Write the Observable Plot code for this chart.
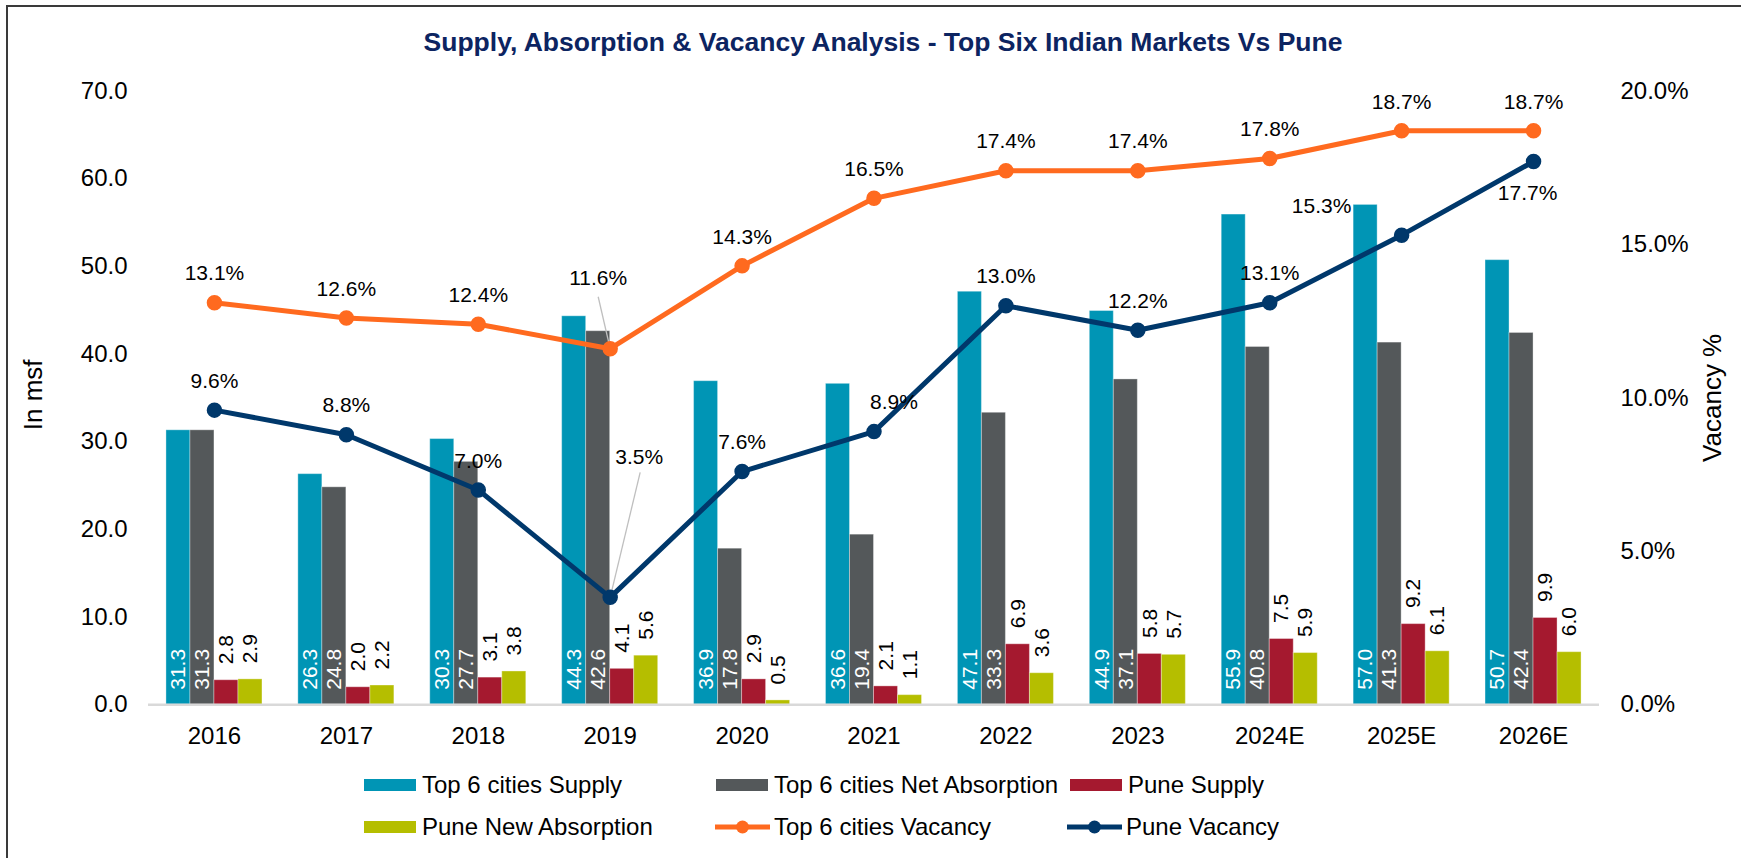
<!DOCTYPE html>
<html><head><meta charset="utf-8">
<script src="https://cdn.jsdelivr.net/npm/d3@7"></script>
<script src="https://cdn.jsdelivr.net/npm/@observablehq/plot@0.6"></script>
<style>
body{margin:0;background:#fff;font-family:"Liberation Sans",Arial,Helvetica,sans-serif;}
#wrap{position:relative;width:1741px;height:858px;overflow:hidden;background:#fff;}
#frame{position:absolute;left:6px;top:5px;width:2000px;height:2000px;border-left:2px solid #3a3a3a;border-top:2px solid #3a3a3a;}
#title{position:absolute;top:27px;left:883px;transform:translateX(-50%);white-space:nowrap;font-weight:bold;font-size:26.5px;line-height:30px;color:#0c2461;}
#chart{position:absolute;left:0;top:60px;}
.leg{position:absolute;height:30px;display:flex;align-items:center;font-size:24px;white-space:nowrap;color:#000;}
.sw{display:inline-block;width:52px;height:12px;margin-right:6px;}
.ln{display:inline-block;width:55px;height:16px;margin-right:4px;}
</style></head>
<body>
<div id="wrap">
  <div id="frame"></div>
  <div id="title">Supply, Absorption &amp; Vacancy Analysis - Top Six Indian Markets Vs Pune</div>
  <div id="chart"></div>
  <div id="legend"></div>
</div>
<script>
// ---- data ----
const years = ["2016","2017","2018","2019","2020","2021","2022","2023","2024E","2025E","2026E"];
const top6Supply = [31.3, 26.3, 30.3, 44.3, 36.9, 36.6, 47.1, 44.9, 55.9, 57.0, 50.7];
const top6NetAbsorption = [31.3, 24.8, 27.7, 42.6, 17.8, 19.4, 33.3, 37.1, 40.8, 41.3, 42.4];
const puneSupply = [2.8, 2.0, 3.1, 4.1, 2.9, 2.1, 6.9, 5.8, 7.5, 9.2, 9.9];
const puneNewAbsorption = [2.9, 2.2, 3.8, 5.6, 0.5, 1.1, 3.6, 5.7, 5.9, 6.1, 6.0];
const top6Vacancy = [13.1, 12.6, 12.4, 11.6, 14.3, 16.5, 17.4, 17.4, 17.8, 18.7, 18.7];
const puneVacancy = [9.6, 8.8, 7.0, 3.5, 7.6, 8.9, 13.0, 12.2, 13.1, 15.3, 17.7];
const leftTicks = [0, 10, 20, 30, 40, 50, 60, 70];
const rightTicks = [0, 5, 10, 15, 20];

const barSeries = [
  {name: "Top 6 cities Supply", values: top6Supply, color: "#0095b5", inside: true},
  {name: "Top 6 cities Net Absorption", values: top6NetAbsorption, color: "#54585a", inside: true},
  {name: "Pune Supply", values: puneSupply, color: "#a5192f", inside: false},
  {name: "Pune New Absorption", values: puneNewAbsorption, color: "#b5be00", inside: false}
];
const lineSeries = [
  {name: "Top 6 cities Vacancy", values: top6Vacancy, color: "#ff6a1f"},
  {name: "Pune Vacancy", values: puneVacancy, color: "#00386b"}
];

// ---- layout ----
const W = 1741, H = 710;
const mL = 148, mR = 142, mT = 30.4, mB = 65.7;
const plotW = W - mL - mR, plotH = H - mT - mB;
const yMax = 70, vMax = 20, vs = yMax / vMax;
const groupW = 0.728, barW = groupW / barSeries.length;
const pxX = plotW / years.length, pxV = plotH / vMax;

const barRows = barSeries.flatMap((s, k) => s.values.map((v, i) => ({
  i, k, v, name: s.name, inside: s.inside,
  x1: i - groupW / 2 + k * barW, x2: i - groupW / 2 + (k + 1) * barW,
  xc: i - groupW / 2 + (k + 0.5) * barW
})));

const lineRows = lineSeries.flatMap((s) => s.values.map((v, i) => ({i, v, y: v * vs, name: s.name, color: s.color})));

// label placements (pixel offsets from point)
const place = {
  "Top 6 cities Vacancy": {def: [0, -29], 3: [-12, -70]},
  "Pune Vacancy": {def: [0, -29], 3: [29, -140], 5: [20, -29], 9: [-80, -29], 10: [-6, 32]}
};
function off(d) { const p = place[d.name]; return p[d.i] || p.def; }
const groups = d3.groups(lineRows, d => off(d).join(","));
const labelMarks = groups.map(([key, rows]) => {
  const [dx, dy] = key.split(",").map(Number);
  return Plot.text(rows, {x: "i", y: "y", text: d => d.v.toFixed(1) + "%", dx, dy, fontSize: 21, fill: "#000"});
});
// leader lines for the displaced 2019 labels
const leaders = [
  {name: "Top 6 cities Vacancy", i: 3, sx: -12, sy: -52},
  {name: "Pune Vacancy", i: 3, sx: 30, sy: -125}
].map(l => {
  const r = lineRows.find(d => d.name === l.name && d.i === l.i);
  return {x1: r.i + l.sx / pxX, y1: r.y - l.sy / pxV * vs, x2: r.i, y2: r.y};
});

const chart = Plot.plot({
  width: W, height: H,
  marginLeft: mL, marginRight: mR, marginTop: mT, marginBottom: mB,
  x: {type: "linear", domain: [-0.5, years.length - 0.5], axis: null},
  y: {domain: [0, yMax], axis: null},
  color: {domain: barSeries.map(s => s.name), range: barSeries.map(s => s.color)},
  style: {fontFamily: '"Liberation Sans", Arial, sans-serif', fontSize: "24px", color: "#000", background: "transparent", overflow: "visible"},
  marks: [
    Plot.rectY(barRows, {x1: "x1", x2: "x2", y1: 0, y2: "v", fill: "name", stroke: "#ffffff", strokeOpacity: 0.35, strokeWidth: 1}),
    Plot.text(barRows.filter(d => d.inside), {x: "xc", y: 0, text: d => d.v.toFixed(1), rotate: -90, textAnchor: "start", dy: -15, fill: "#ffffff", fontSize: 21}),
    Plot.text(barRows.filter(d => !d.inside), {x: "xc", y: "v", text: d => d.v.toFixed(1), rotate: -90, textAnchor: "start", dy: -16, fill: "#000", fontSize: 21}),
    Plot.ruleY([0], {stroke: "#d9d9d9", strokeWidth: 2.5}),
    Plot.axisY({anchor: "left", ticks: leftTicks, tickFormat: d => d.toFixed(1), tickSize: 0, tickPadding: 21, fontSize: 24, label: null}),
    Plot.axisY({anchor: "right", ticks: rightTicks.map(t => t * vs), tickFormat: d => (d / vs).toFixed(1) + "%", tickSize: 0, tickPadding: 21, fontSize: 24, label: null}),
    Plot.axisX({ticks: years.map((_, i) => i), tickFormat: i => years[i], tickSize: 0, tickPadding: 22, fontSize: 24, label: null}),
    Plot.text(["In msf"], {frameAnchor: "left", textAnchor: "middle", dx: -115, dy: -3, rotate: -90, fontSize: 26, fill: "#000"}),
    Plot.text(["Vacancy %"], {frameAnchor: "right", textAnchor: "middle", dx: 113, rotate: -90, fontSize: 26, fill: "#000"}),
    ...lineSeries.map(s => Plot.line(lineRows.filter(d => d.name === s.name), {x: "i", y: "y", stroke: s.color, strokeWidth: 5})),
    Plot.link(leaders, {x1: "x1", y1: "y1", x2: "x2", y2: "y2", stroke: "#bfbfbf", strokeWidth: 1.3}),
    ...lineSeries.map(s => Plot.dot(lineRows.filter(d => d.name === s.name), {x: "i", y: "y", r: 7, fill: s.color, stroke: s.color})),
    ...labelMarks
  ]
});
document.getElementById("chart").appendChild(chart);

// ---- legend ----
const legItems = [
  {s: barSeries[0], left: 364, cy: 785, type: "bar"},
  {s: barSeries[1], left: 716, cy: 785, type: "bar"},
  {s: barSeries[2], left: 1070, cy: 785, type: "bar"},
  {s: barSeries[3], left: 364, cy: 827, type: "bar"},
  {s: lineSeries[0], left: 715, cy: 827, type: "line"},
  {s: lineSeries[1], left: 1067, cy: 827, type: "line"}
];
const leg = document.getElementById("legend");
legItems.forEach(it => {
  const d = document.createElement("div");
  d.className = "leg";
  d.style.left = it.left + "px";
  d.style.top = (it.cy - 15) + "px";
  if (it.type === "bar") {
    d.innerHTML = `<span class="sw" style="background:${it.s.color}"></span><span>${it.s.name}</span>`;
  } else {
    d.innerHTML = `<svg class="ln" viewBox="0 0 55 16"><line x1="0" y1="8" x2="55" y2="8" stroke="${it.s.color}" stroke-width="5" stroke-linecap="round"/><circle cx="27.5" cy="8" r="6.5" fill="${it.s.color}"/></svg><span>${it.s.name}</span>`;
  }
  leg.appendChild(d);
});
</script>
</body></html>
